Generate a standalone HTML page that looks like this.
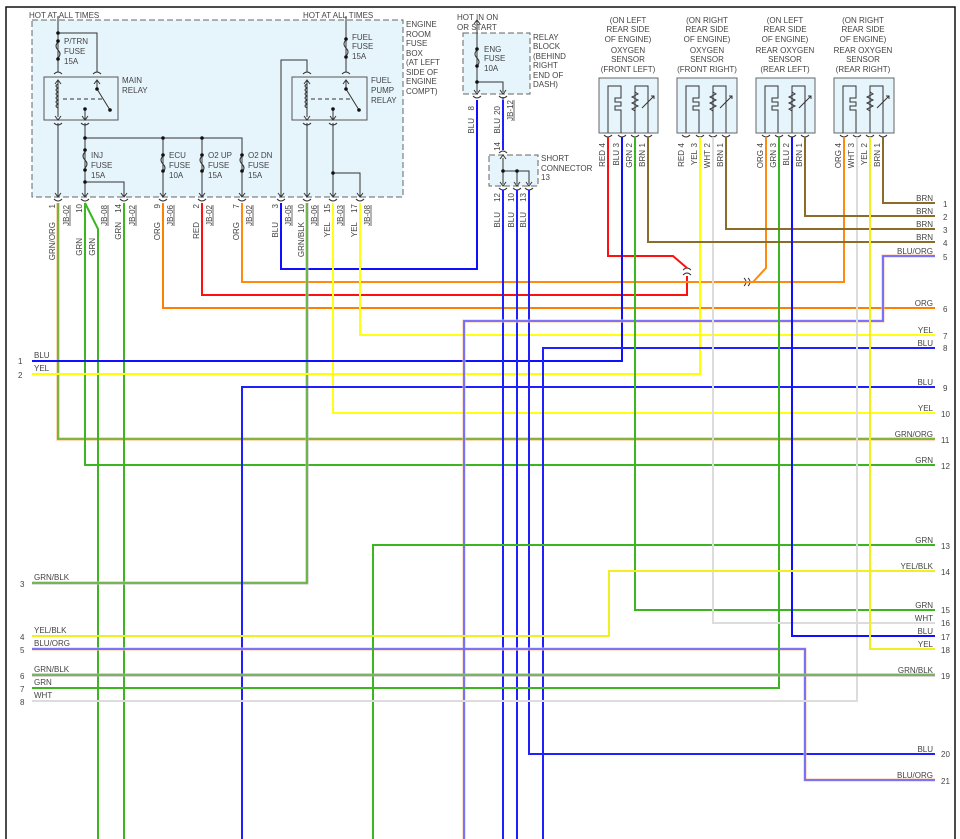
<!DOCTYPE html>
<html><head><meta charset="utf-8"><style>
html,body{margin:0;padding:0;background:#fff}
svg{display:block}
text{font-family:"Liberation Sans",sans-serif;font-size:8px;fill:#444}
.w{fill:none;stroke-width:2}
.t{fill:none;stroke:#333;stroke-width:1}
</style></head><body>
<svg width="960" height="839" viewBox="0 0 960 839" xmlns="http://www.w3.org/2000/svg">
<rect x="0" y="0" width="960" height="839" fill="#fff"/>
<path d="M6,839 V7 H955 V839" fill="none" stroke="#111" stroke-width="1.5"/>

<!-- boxes -->
<rect x="32" y="20" width="371" height="177" fill="#e6f4fb" stroke="#666" stroke-dasharray="6,3"/>
<rect x="463" y="33" width="67" height="61" fill="#e6f4fb" stroke="#666" stroke-dasharray="6,3"/>
<rect x="489" y="155" width="49" height="31" fill="#e6f4fb" stroke="#666" stroke-dasharray="6,3"/>
<rect x="44" y="77" width="74" height="43" fill="#e6f4fb" stroke="#555"/>
<rect x="292" y="77" width="75" height="43" fill="#e6f4fb" stroke="#555"/>
<g fill="#e6f4fb" stroke="#666">
<rect x="599" y="78" width="59" height="55"/><rect x="677" y="78" width="60" height="55"/>
<rect x="756" y="78" width="59" height="55"/><rect x="834" y="78" width="60" height="55"/>
</g>

<!-- fuse box internals -->
<g class="t">
<path d="M58,16 V72 M58,33 H97 V72"/>
<path d="M58,42 q-4,4 0,8 q4,4 0,8"/>
<path d="M58,80 V117 M97,80 V89 M97,89 L110,110"/>
<path d="M58,84 q-4,2 0,4 q-4,2 0,4 q-4,2 0,4 q-4,2 0,4 q-4,2 0,4 q-4,2 0,4"/>
<path d="M63,99 H103" stroke-dasharray="4,3"/>
<path d="M85,109 V119 M58,123 V197 M85,123 V197 M85,138 H242 V197 M163,138 V197 M202,138 V197 M85,182 H124 V197"/>
<path d="M85,152 q-4,4 0,8 q4,4 0,8 M163,156 q-4,4 0,8 q4,4 0,8 M202,156 q-4,4 0,8 q4,4 0,8 M242,156 q-4,4 0,8 q4,4 0,8"/>
<path d="M346,16 V72 M346,40 q-4,4 0,8 q4,4 0,8"/>
<path d="M281,197 V60 H307 V72 M307,80 V117 M346,80 V89 M346,89 L359,110 M333,109 V119 M307,123 V197 M333,123 V197 M333,173 H360 V197"/>
<path d="M307,84 q-4,2 0,4 q-4,2 0,4 q-4,2 0,4 q-4,2 0,4 q-4,2 0,4 q-4,2 0,4"/>
<path d="M311,99 H352" stroke-dasharray="4,3"/>
<path d="M477,20 V92 M477,50 q-4,4 0,8 q4,4 0,8 M477,82 H503 V92 M503,97 V150 M503,158 V184 M503,171 H529 V184 M517,171 V184"/>
<!-- connector arcs -->
<path d="M54,74 q4,-4 8,0 M93,74 q4,-4 8,0 M54,123 q4,4 8,0 M81,123 q4,4 8,0 M303,74 q4,-4 8,0 M342,74 q4,-4 8,0 M303,123 q4,4 8,0 M329,123 q4,4 8,0"/>
<path d="M54,199 q4,4 8,0 M81,199 q4,4 8,0 M120,199 q4,4 8,0 M159,199 q4,4 8,0 M198,199 q4,4 8,0 M238,199 q4,4 8,0 M277,199 q4,4 8,0 M303,199 q4,4 8,0 M329,199 q4,4 8,0 M356,199 q4,4 8,0"/>
<path d="M473,96 q4,4 8,0 M499,96 q4,4 8,0 M499,153 q4,-4 8,0 M499,188 q4,4 8,0 M513,188 q4,4 8,0 M525,188 q4,4 8,0"/>
<path d="M604,135 q4,4 8,0 M618,135 q4,4 8,0 M631,135 q4,4 8,0 M644,135 q4,4 8,0 M682,135 q4,4 8,0 M696,135 q4,4 8,0 M709,135 q4,4 8,0 M722,135 q4,4 8,0 M762,135 q4,4 8,0 M775,135 q4,4 8,0 M788,135 q4,4 8,0 M801,135 q4,4 8,0 M840,135 q4,4 8,0 M853,135 q4,4 8,0 M866,135 q4,4 8,0 M879,135 q4,4 8,0"/>
<path d="M683,270 q4,-4 8,0 M683,275 q4,-4 8,0 M744,278 q4,4 0,8 M748,278 q4,4 0,8"/>
<!-- arrows -->
<path d="M55,193 l3,4 l3,-4 M82,193 l3,4 l3,-4 M121,193 l3,4 l3,-4 M160,193 l3,4 l3,-4 M199,193 l3,4 l3,-4 M239,193 l3,4 l3,-4 M278,193 l3,4 l3,-4 M304,193 l3,4 l3,-4 M330,193 l3,4 l3,-4 M357,193 l3,4 l3,-4"/>
<path d="M55,84 l3,-4 l3,4 M94,84 l3,-4 l3,4 M55,116 l3,4 l3,-4 M82,116 l3,4 l3,-4 M304,84 l3,-4 l3,4 M343,84 l3,-4 l3,4 M304,116 l3,4 l3,-4 M330,116 l3,4 l3,-4 M474,24 l3,-4 l3,4 M474,90 l3,4 l3,-4 M500,90 l3,4 l3,-4 M500,159 l3,-4 l3,4 M500,182 l3,4 l3,-4 M514,182 l3,4 l3,-4 M526,182 l3,4 l3,-4"/>
</g>
<g fill="#111">
<circle cx="58" cy="33" r="1.8"/><circle cx="58" cy="41" r="1.8"/><circle cx="58" cy="59" r="1.8"/>
<circle cx="97" cy="89" r="1.8"/><circle cx="110" cy="110" r="1.8"/><circle cx="85" cy="109" r="1.8"/>
<circle cx="85" cy="138" r="1.8"/><circle cx="163" cy="138" r="1.8"/><circle cx="202" cy="138" r="1.8"/>
<circle cx="85" cy="150" r="1.8"/><circle cx="85" cy="170" r="1.8"/><circle cx="85" cy="182" r="1.8"/>
<circle cx="163" cy="155" r="1.8"/><circle cx="163" cy="171" r="1.8"/><circle cx="202" cy="155" r="1.8"/><circle cx="202" cy="171" r="1.8"/><circle cx="242" cy="155" r="1.8"/><circle cx="242" cy="171" r="1.8"/>
<circle cx="346" cy="39" r="1.8"/><circle cx="346" cy="57" r="1.8"/><circle cx="346" cy="89" r="1.8"/><circle cx="359" cy="110" r="1.8"/><circle cx="333" cy="109" r="1.8"/><circle cx="333" cy="173" r="1.8"/>
<circle cx="477" cy="49" r="1.8"/><circle cx="477" cy="66" r="1.8"/><circle cx="477" cy="82" r="1.8"/>
<circle cx="503" cy="171" r="1.8"/><circle cx="517" cy="171" r="1.8"/>
</g>

<!-- sensor internals -->
<g class="t" stroke="#333">
<path id="s" d="M608,133 V86 H621 V98 h-6 v4 h6 v4 h-6 v4 h6 V133 M635,133 V86 H648 V133 M635,92 l3,2 l-6,3 l6,3 l-6,3 l6,3 l-6,3 l3,2 M642,108 l12,-12 M651,96 h3 v3"/>
<use href="#s" x="78"/><use href="#s" x="157"/><use href="#s" x="235"/>
</g>

<!-- wires -->
<g class="w">
<path d="M58,203 V439 H935" stroke="#f5b070" stroke-width="3"/><path d="M58,203 V439 H935" stroke="#5cb52e" stroke-width="1.6"/>
<path d="M85,203 V465 H935 M85,203 L98,229 V839 M124,203 V839" stroke="#3cb521"/>
<path d="M163,203 V308 H935" stroke="#ff8000"/>
<path d="M202,203 V295 H687 V276 M687,268 L673,256 H608 V137" stroke="#ff1010"/>
<path d="M242,203 V282 H844 V137 M766,137 V268 L753,282" stroke="#ff8a10"/>
<path d="M281,203 V269 H477 V100" stroke="#1010ff"/>
<path d="M307,203 V583 H32" stroke="#bbb" stroke-width="3"/><path d="M307,203 V583 H32" stroke="#5cb52e" stroke-width="1.6"/>
<path d="M333,203 V413 H935 M360,203 V335 H935" stroke="#ffff10"/>
<path d="M32,361 H622 V137" stroke="#1010ff"/>
<path d="M32,374 H700 V137" stroke="#ffff00"/>
<path d="M242,839 V387 H935 M543,839 V348 H935 M503,100 V150 M503,190 V839 M517,190 V839 M529,190 V754 H935" stroke="#2020ff"/>
<path d="M464,839 V321 H883 V256 H935 M32,649 H805 V780 H935" stroke="#f8c0a0" stroke-width="3"/>
<path d="M464,839 V321 H883 V256 H935 M32,649 H805 V780 H935" stroke="#6a6aff" stroke-width="1.8"/>
<path d="M635,137 V610 H935 M779,137 V688 H32 M373,839 V545 H935" stroke="#3cb521"/>
<path d="M713,137 V623 H935 M857,137 V701 H32" stroke="#dcdcdc"/>
<path d="M648,137 V242 H935 M726,137 V229 H935 M805,137 V216 H935 M883,137 V203 H935" stroke="#8b6c28"/>
<path d="M792,137 V636 H935" stroke="#1010ff"/>
<path d="M870,137 V649 H935 M32,636 H609 V571 H935" stroke="#f0f020"/>
<path d="M32,675 H935" stroke="#aaa" stroke-width="3"/><path d="M32,675 H935" stroke="#6cb550" stroke-width="1.6"/>
</g>

<!-- top texts -->
<text x="29" y="18">HOT AT ALL TIMES</text>
<text x="303" y="18">HOT AT ALL TIMES</text>
<text x="64" y="44">P/TRN</text><text x="64" y="54">FUSE</text><text x="64" y="64">15A</text>
<text x="122" y="83">MAIN</text><text x="122" y="93">RELAY</text>
<text x="91" y="158">INJ</text><text x="91" y="168">FUSE</text><text x="91" y="178">15A</text>
<text x="169" y="158">ECU</text><text x="169" y="168">FUSE</text><text x="169" y="178">10A</text>
<text x="208" y="158">O2 UP</text><text x="208" y="168">FUSE</text><text x="208" y="178">15A</text>
<text x="248" y="158">O2 DN</text><text x="248" y="168">FUSE</text><text x="248" y="178">15A</text>
<text x="352" y="40">FUEL</text><text x="352" y="49">FUSE</text><text x="352" y="59">15A</text>
<text x="371" y="83">FUEL</text><text x="371" y="93">PUMP</text><text x="371" y="103">RELAY</text>
<text x="406" y="27">ENGINE</text><text x="406" y="37">ROOM</text><text x="406" y="46">FUSE</text><text x="406" y="56">BOX</text><text x="406" y="65">(AT LEFT</text><text x="406" y="75">SIDE OF</text><text x="406" y="84">ENGINE</text><text x="406" y="94">COMPT)</text>
<text x="457" y="20">HOT IN ON</text><text x="457" y="30">OR START</text>
<text x="484" y="52">ENG</text><text x="484" y="61">FUSE</text><text x="484" y="71">10A</text>
<text x="533" y="40">RELAY</text><text x="533" y="49">BLOCK</text><text x="533" y="59">(BEHIND</text><text x="533" y="68">RIGHT</text><text x="533" y="78">END OF</text><text x="533" y="87">DASH)</text>
<text x="541" y="161">SHORT</text><text x="541" y="171">CONNECTOR</text><text x="541" y="180">13</text>
<g text-anchor="middle">
<text x="628" y="23">(ON LEFT</text><text x="628" y="32">REAR SIDE</text><text x="628" y="42">OF ENGINE)</text><text x="628" y="53">OXYGEN</text><text x="628" y="62">SENSOR</text><text x="628" y="72">(FRONT LEFT)</text>
<text x="707" y="23">(ON RIGHT</text><text x="707" y="32">REAR SIDE</text><text x="707" y="42">OF ENGINE)</text><text x="707" y="53">OXYGEN</text><text x="707" y="62">SENSOR</text><text x="707" y="72">(FRONT RIGHT)</text>
<text x="785" y="23">(ON LEFT</text><text x="785" y="32">REAR SIDE</text><text x="785" y="42">OF ENGINE)</text><text x="785" y="53">REAR OXYGEN</text><text x="785" y="62">SENSOR</text><text x="785" y="72">(REAR LEFT)</text>
<text x="863" y="23">(ON RIGHT</text><text x="863" y="32">REAR SIDE</text><text x="863" y="42">OF ENGINE)</text><text x="863" y="53">REAR OXYGEN</text><text x="863" y="62">SENSOR</text><text x="863" y="72">(REAR RIGHT)</text>
</g>

<!-- rotated pin labels -->
<g text-anchor="end">
<text transform="translate(55,204) rotate(-90)">1</text><text transform="translate(55,222) rotate(-90)">GRN/ORG</text><text transform="translate(69,205) rotate(-90)">JB-02</text>
<text transform="translate(82,204) rotate(-90)">10</text><text transform="translate(82,238) rotate(-90)">GRN</text><text transform="translate(95,238) rotate(-90)">GRN</text><text transform="translate(107,205) rotate(-90)">JB-08</text>
<text transform="translate(121,204) rotate(-90)">14</text><text transform="translate(121,222) rotate(-90)">GRN</text><text transform="translate(135,205) rotate(-90)">JB-02</text>
<text transform="translate(160,204) rotate(-90)">9</text><text transform="translate(160,222) rotate(-90)">ORG</text><text transform="translate(173,205) rotate(-90)">JB-06</text>
<text transform="translate(199,204) rotate(-90)">2</text><text transform="translate(199,222) rotate(-90)">RED</text><text transform="translate(212,205) rotate(-90)">JB-02</text>
<text transform="translate(239,204) rotate(-90)">7</text><text transform="translate(239,222) rotate(-90)">ORG</text><text transform="translate(252,205) rotate(-90)">JB-02</text>
<text transform="translate(278,204) rotate(-90)">3</text><text transform="translate(278,222) rotate(-90)">BLU</text><text transform="translate(291,205) rotate(-90)">JB-05</text>
<text transform="translate(304,204) rotate(-90)">10</text><text transform="translate(304,222) rotate(-90)">GRN/BLK</text><text transform="translate(317,205) rotate(-90)">JB-06</text>
<text transform="translate(330,204) rotate(-90)">15</text><text transform="translate(330,222) rotate(-90)">YEL</text><text transform="translate(343,205) rotate(-90)">JB-03</text>
<text transform="translate(357,204) rotate(-90)">17</text><text transform="translate(357,222) rotate(-90)">YEL</text><text transform="translate(370,205) rotate(-90)">JB-08</text>
<text transform="translate(474,106) rotate(-90)">8</text><text transform="translate(474,118) rotate(-90)">BLU</text>
<text transform="translate(500,106) rotate(-90)">20</text><text transform="translate(500,118) rotate(-90)">BLU</text><text transform="translate(513,100) rotate(-90)">JB-12</text>
<text transform="translate(500,142) rotate(-90)">14</text>
<text transform="translate(500,193) rotate(-90)">12</text><text transform="translate(500,212) rotate(-90)">BLU</text>
<text transform="translate(514,193) rotate(-90)">10</text><text transform="translate(514,212) rotate(-90)">BLU</text>
<text transform="translate(526,193) rotate(-90)">13</text><text transform="translate(526,212) rotate(-90)">BLU</text>
<text transform="translate(605,143) rotate(-90)">4</text><text transform="translate(605,150) rotate(-90)">RED</text>
<text transform="translate(619,143) rotate(-90)">3</text><text transform="translate(619,150) rotate(-90)">BLU</text>
<text transform="translate(632,143) rotate(-90)">2</text><text transform="translate(632,150) rotate(-90)">GRN</text>
<text transform="translate(645,143) rotate(-90)">1</text><text transform="translate(645,150) rotate(-90)">BRN</text>
<text transform="translate(684,143) rotate(-90)">4</text><text transform="translate(684,150) rotate(-90)">RED</text>
<text transform="translate(697,143) rotate(-90)">3</text><text transform="translate(697,150) rotate(-90)">YEL</text>
<text transform="translate(710,143) rotate(-90)">2</text><text transform="translate(710,150) rotate(-90)">WHT</text>
<text transform="translate(723,143) rotate(-90)">1</text><text transform="translate(723,150) rotate(-90)">BRN</text>
<text transform="translate(763,143) rotate(-90)">4</text><text transform="translate(763,150) rotate(-90)">ORG</text>
<text transform="translate(776,143) rotate(-90)">3</text><text transform="translate(776,150) rotate(-90)">GRN</text>
<text transform="translate(789,143) rotate(-90)">2</text><text transform="translate(789,150) rotate(-90)">BLU</text>
<text transform="translate(802,143) rotate(-90)">1</text><text transform="translate(802,150) rotate(-90)">BRN</text>
<text transform="translate(841,143) rotate(-90)">4</text><text transform="translate(841,150) rotate(-90)">ORG</text>
<text transform="translate(854,143) rotate(-90)">3</text><text transform="translate(854,150) rotate(-90)">WHT</text>
<text transform="translate(867,143) rotate(-90)">2</text><text transform="translate(867,150) rotate(-90)">YEL</text>
<text transform="translate(880,143) rotate(-90)">1</text><text transform="translate(880,150) rotate(-90)">BRN</text>
</g>
<g stroke="#444" stroke-width="0.8">
<path d="M70,205 V226 M108,205 V226 M136,205 V226 M174,205 V226 M213,205 V226 M253,205 V226 M292,205 V226 M318,205 V226 M344,205 V226 M371,205 V226 M514,100 V121"/>
</g>

<!-- left labels -->
<g>
<text x="18" y="364">1</text><text x="34" y="358">BLU</text>
<text x="18" y="378">2</text><text x="34" y="371">YEL</text>
<text x="20" y="587">3</text><text x="34" y="580">GRN/BLK</text>
<text x="20" y="640">4</text><text x="34" y="633">YEL/BLK</text>
<text x="20" y="653">5</text><text x="34" y="646">BLU/ORG</text>
<text x="20" y="679">6</text><text x="34" y="672">GRN/BLK</text>
<text x="20" y="692">7</text><text x="34" y="685">GRN</text>
<text x="20" y="705">8</text><text x="34" y="698">WHT</text>
</g>
<!-- right labels -->
<g text-anchor="end">
<text x="933" y="201">BRN</text><text x="933" y="214">BRN</text><text x="933" y="227">BRN</text><text x="933" y="240">BRN</text>
<text x="933" y="254">BLU/ORG</text><text x="933" y="306">ORG</text><text x="933" y="333">YEL</text><text x="933" y="346">BLU</text>
<text x="933" y="385">BLU</text><text x="933" y="411">YEL</text><text x="933" y="437">GRN/ORG</text><text x="933" y="463">GRN</text>
<text x="933" y="543">GRN</text><text x="933" y="569">YEL/BLK</text><text x="933" y="608">GRN</text><text x="933" y="621">WHT</text>
<text x="933" y="634">BLU</text><text x="933" y="647">YEL</text><text x="933" y="673">GRN/BLK</text><text x="933" y="752">BLU</text><text x="933" y="778">BLU/ORG</text>
</g>
<g>
<text x="943" y="207">1</text><text x="943" y="220">2</text><text x="943" y="233">3</text><text x="943" y="246">4</text><text x="943" y="260">5</text>
<text x="943" y="312">6</text><text x="943" y="339">7</text><text x="943" y="351">8</text><text x="943" y="391">9</text><text x="941" y="417">10</text>
<text x="941" y="443">11</text><text x="941" y="469">12</text><text x="941" y="549">13</text><text x="941" y="575">14</text><text x="941" y="613">15</text>
<text x="941" y="626">16</text><text x="941" y="640">17</text><text x="941" y="653">18</text><text x="941" y="679">19</text><text x="941" y="757">20</text><text x="941" y="784">21</text>
</g>
</svg>
</body></html>
